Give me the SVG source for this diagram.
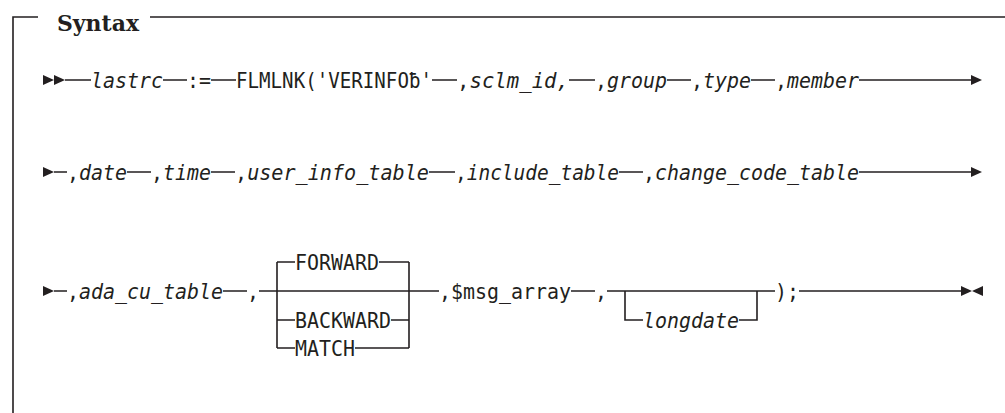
<svg xmlns="http://www.w3.org/2000/svg" xmlns:xlink="http://www.w3.org/1999/xlink" width="1005" height="413" viewBox="0 0 1005 413">
<style>
.t{font-family:"DejaVu Sans Mono","Liberation Mono",monospace;font-size:21.5px;fill:#231f20;}
.i{font-style:italic;}
.h{font-family:"DejaVu Serif","Liberation Serif",serif;font-size:23px;font-weight:bold;fill:#231f20;}
.ln{stroke:#231f20;stroke-width:1.6;fill:none;}
.ar{fill:#231f20;}
</style>
<defs>
<path id="rt" d="M0,-5 L11,0 L0,5 Z"/>
<path id="lt" d="M11,-5 L0,0 L11,5 Z"/>
</defs>
<rect width="1005" height="413" fill="#fff"/>
<g id="frame">
<path class="ln" d="M13,413 V17 H38 M150,17 H1005"/>
<text class="h" x="57" y="31" textLength="82" lengthAdjust="spacingAndGlyphs">Syntax</text>
</g>
<g id="connectors">
<path class="ln" d="M65,80 H91 M163,80 H187 M211,80 H236 M432,80 H457 M569,80 H595 M667,80 H691 M751,80 H775 M859,80 H972"/>
<path class="ln" d="M54,172 H67 M127,172 H151 M211,172 H235 M429,172 H455 M619,172 H643 M859,172 H972"/>
<path class="ln" d="M54,291 H67 M223,291 H247 M259,291 H439 M277,262 V348 M409,262 V348 M277,262 H295 M379,262 H409 M277,320 H295 M391,320 H409 M277,348 H295 M355,348 H409"/>
<path class="ln" d="M571,291 H595 M607,291 H775 M625,291 V320 H643 M739,320 H757 V291 M799,291 H961"/>
<use class="ar" xlink:href="#rt" x="43" y="80"/>
<use class="ar" xlink:href="#rt" x="54" y="80"/>
<use class="ar" xlink:href="#rt" x="971" y="80"/>
<use class="ar" xlink:href="#rt" x="43" y="172"/>
<use class="ar" xlink:href="#rt" x="971" y="172"/>
<use class="ar" xlink:href="#rt" x="43" y="291"/>
<use class="ar" xlink:href="#rt" x="961" y="291"/>
<use class="ar" xlink:href="#lt" x="972" y="291"/>
</g>
<g id="n-lastrc"><text class="t i" x="91" y="88" textLength="72" lengthAdjust="spacingAndGlyphs">lastrc</text></g>
<g id="n-assign"><text class="t" x="187" y="88" textLength="24" lengthAdjust="spacingAndGlyphs">:=</text></g>
<g id="n-flmlnk"><text class="t" x="236" y="88" textLength="196" lengthAdjust="spacingAndGlyphs">FLMLNK('VERINFOƀ'</text></g>
<g id="n-sclm"><text class="t" x="457" y="88" textLength="112" lengthAdjust="spacingAndGlyphs">,<tspan class="i">sclm_id,</tspan></text></g>
<g id="n-group"><text class="t" x="595" y="88" textLength="72" lengthAdjust="spacingAndGlyphs">,<tspan class="i">group</tspan></text></g>
<g id="n-type"><text class="t" x="691" y="88" textLength="60" lengthAdjust="spacingAndGlyphs">,<tspan class="i">type</tspan></text></g>
<g id="n-member"><text class="t" x="775" y="88" textLength="84" lengthAdjust="spacingAndGlyphs">,<tspan class="i">member</tspan></text></g>
<g id="n-date"><text class="t" x="67" y="180" textLength="60" lengthAdjust="spacingAndGlyphs">,<tspan class="i">date</tspan></text></g>
<g id="n-time"><text class="t" x="151" y="180" textLength="60" lengthAdjust="spacingAndGlyphs">,<tspan class="i">time</tspan></text></g>
<g id="n-userinfo"><text class="t" x="235" y="180" textLength="194" lengthAdjust="spacingAndGlyphs">,<tspan class="i">user_info_table</tspan></text></g>
<g id="n-include"><text class="t" x="455" y="180" textLength="164" lengthAdjust="spacingAndGlyphs">,<tspan class="i">include_table</tspan></text></g>
<g id="n-changecode"><text class="t" x="643" y="180" textLength="216" lengthAdjust="spacingAndGlyphs">,<tspan class="i">change_code_table</tspan></text></g>
<g id="n-adacu"><text class="t" x="67" y="299" textLength="156" lengthAdjust="spacingAndGlyphs">,<tspan class="i">ada_cu_table</tspan></text></g>
<g id="n-comma1"><text class="t" x="247" y="299" textLength="12" lengthAdjust="spacingAndGlyphs">,</text></g>
<g id="n-forward"><text class="t" x="295" y="270" textLength="84" lengthAdjust="spacingAndGlyphs">FORWARD</text></g>
<g id="n-backward"><text class="t" x="295" y="328" textLength="96" lengthAdjust="spacingAndGlyphs">BACKWARD</text></g>
<g id="n-match"><text class="t" x="295" y="356" textLength="60" lengthAdjust="spacingAndGlyphs">MATCH</text></g>
<g id="n-msgarray"><text class="t" x="439" y="299" textLength="132" lengthAdjust="spacingAndGlyphs">,$msg_array</text></g>
<g id="n-comma2"><text class="t" x="595" y="299" textLength="12" lengthAdjust="spacingAndGlyphs">,</text></g>
<g id="n-longdate"><text class="t i" x="643" y="328" textLength="96" lengthAdjust="spacingAndGlyphs">longdate</text></g>
<g id="n-close"><text class="t" x="775" y="299" textLength="24" lengthAdjust="spacingAndGlyphs">);</text></g>
</svg>
